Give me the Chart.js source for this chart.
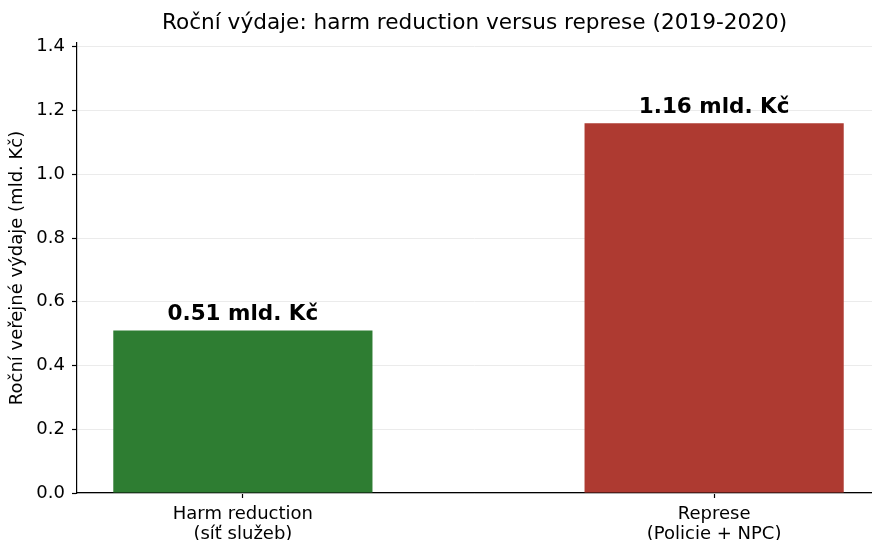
<!DOCTYPE html>
<html>
<head>
<meta charset="utf-8">
<script src="https://cdn.jsdelivr.net/npm/chart.js@4/dist/chart.umd.min.js"></script>
<style>
  body { margin: 0; background: #fff; }
  #wrap { width: 872px; height: 540px; }
</style>
</head>
<body>
<div id="wrap"><canvas id="myChart"></canvas></div>
<script>
// Data
const categories = [["Harm reduction", "(síť služeb)"], ["Represe", "(Policie + NPC)"]];
const positions = [0, 1];
const values = [0.51, 1.16];
const valueLabels = ["0.51 mld. Kč", "1.16 mld. Kč"];
const barColors = ["#2e7d32", "#ae3a31"];
const yTicks = [0, 0.2, 0.4, 0.6, 0.8, 1.0, 1.2, 1.4];
const chartTitle = "Roční výdaje: harm reduction versus represe (2019-2020)";

const fontFamily = "'DejaVu Sans', sans-serif";

// title centred over the plot area (not the whole canvas) + bold value labels
const textPlugin = {
  id: "texts",
  afterDatasetsDraw(chart) {
    const ctx = chart.ctx;
    const area = chart.chartArea;
    ctx.save();
    ctx.fillStyle = "#000";
    ctx.textAlign = "center";

    ctx.font = "21.6px " + fontFamily;
    ctx.textBaseline = "middle";
    ctx.fillText(chartTitle, (area.left + area.right) / 2, 23);

    ctx.font = "bold 21.5px " + fontFamily;
    ctx.textBaseline = "bottom";
    const meta = chart.getDatasetMeta(0);
    meta.data.forEach((bar, i) => {
      ctx.fillText(valueLabels[i], bar.x, bar.y - 5);
    });
    ctx.restore();
  },
};

const chart = document.querySelector("#myChart");

const config = {
  type: "bar",
  data: {
    datasets: [
      {
        data: positions.map((x, i) => ({ x: x, y: values[i] })),
        backgroundColor: barColors,
        borderWidth: 0,
        categoryPercentage: 0.55,
        barPercentage: 1,
      },
    ],
  },
  options: {
    responsive: true,
    maintainAspectRatio: false,
    animation: false,
    layout: { padding: { left: 3, right: 0, top: 43, bottom: 0 } },
    plugins: {
      legend: { display: false },
      tooltip: { enabled: false },
      title: { display: false },
    },
    scales: {
      x: {
        type: "linear",
        min: -0.352,
        max: 1.335,
        offset: false,
        afterBuildTicks(scale) {
          scale.ticks = positions.map((v) => ({ value: v }));
        },
        afterFit(scale) {
          scale.height = 47;
        },
        ticks: {
          color: "#000",
          font: { family: fontFamily, size: 18, lineHeight: 1.12 },
          padding: 6,
          maxRotation: 0,
          autoSkip: false,
          callback: (value) => categories[positions.indexOf(value)],
        },
        grid: {
          offset: false,
          drawOnChartArea: false,
          tickColor: "#000",
          tickWidth: 1.2,
          tickLength: 5,
        },
        border: { color: "#000", width: 1.2 },
      },
      y: {
        min: 0,
        max: 1.412,
        afterBuildTicks(scale) {
          scale.ticks = yTicks.map((v) => ({ value: v }));
        },
        afterFit(scale) {
          scale.width = 74;
        },
        ticks: {
          color: "#000",
          font: { family: fontFamily, size: 18 },
          padding: 7,
          callback: (value) => value.toFixed(1),
        },
        grid: {
          color: "#ebebeb",
          lineWidth: 1,
          tickColor: "#000",
          tickWidth: 1.2,
          tickLength: 5,
        },
        border: { color: "#000", width: 1.2 },
        title: {
          display: true,
          text: "Roční veřejné výdaje (mld. Kč)",
          color: "#000",
          font: { family: fontFamily, size: 18 },
          padding: { top: 4, bottom: 0 },
        },
      },
    },
  },
  plugins: [textPlugin],
};

const myChart = new Chart(chart, config);
</script>
</body>
</html>
